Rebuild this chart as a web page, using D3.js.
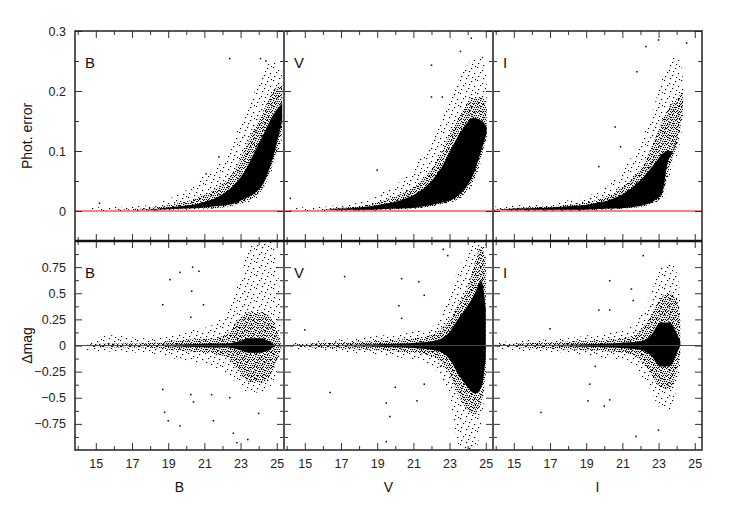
<!DOCTYPE html>
<html><head><meta charset="utf-8">
<script src="https://cdn.jsdelivr.net/npm/d3@7/dist/d3.min.js"></script>
<style>body{margin:0;background:#fff}</style>
</head><body>
<svg width="747" height="524"></svg>
<script>
var bands = ["B", "V", "I"];
var xTicks = [15, 17, 19, 21, 23, 25];
var xMinor = [14, 16, 18, 20, 22, 24];
var errTicks = [0, 0.1, 0.2, 0.3];
var errMinor = [-0.05, 0.05, 0.15, 0.25];
var dmTicks = [-0.75, -0.5, -0.25, 0, 0.25, 0.5, 0.75];
var dmMinor = [-0.875, -0.625, -0.375, -0.125, 0.125, 0.375, 0.625, 0.875];

// cloud envelopes: [mag, outerLo, innerLo, coreLo, coreHi, innerHi, outerHi]
var errB = [
  [14.6, 0.000, 0.002, 0.002, 0.002, 0.002, 0.006],
  [16.5, 0.000, 0.002, 0.002, 0.002, 0.003, 0.007],
  [18.0, 0.000, 0.001, 0.002, 0.003, 0.005, 0.010],
  [19.0, 0.001, 0.002, 0.003, 0.006, 0.010, 0.020],
  [20.0, 0.002, 0.003, 0.004, 0.009, 0.016, 0.035],
  [21.0, 0.003, 0.004, 0.006, 0.015, 0.027, 0.060],
  [22.0, 0.005, 0.006, 0.009, 0.028, 0.045, 0.085],
  [22.6, 0.007, 0.009, 0.012, 0.042, 0.065, 0.120],
  [23.2, 0.012, 0.015, 0.020, 0.065, 0.100, 0.160],
  [23.8, 0.020, 0.025, 0.030, 0.100, 0.140, 0.200],
  [24.3, 0.035, 0.040, 0.048, 0.130, 0.170, 0.235],
  [24.8, 0.070, 0.080, 0.090, 0.160, 0.200, 0.250],
  [25.3, 0.120, 0.130, 0.150, 0.180, 0.210, 0.235]
];
var errV = [
  [14.2, 0.000, 0.002, 0.002, 0.002, 0.002, 0.006],
  [16.0, 0.000, 0.002, 0.002, 0.002, 0.003, 0.007],
  [16.8, 0.000, 0.001, 0.002, 0.004, 0.005, 0.010],
  [18.0, 0.000, 0.001, 0.002, 0.006, 0.008, 0.014],
  [19.2, 0.001, 0.002, 0.003, 0.011, 0.016, 0.030],
  [20.3, 0.002, 0.003, 0.004, 0.018, 0.028, 0.050],
  [21.2, 0.004, 0.005, 0.006, 0.030, 0.045, 0.080],
  [22.0, 0.007, 0.008, 0.010, 0.050, 0.070, 0.120],
  [22.6, 0.010, 0.012, 0.014, 0.075, 0.100, 0.155],
  [23.2, 0.014, 0.016, 0.020, 0.110, 0.140, 0.200],
  [23.8, 0.025, 0.028, 0.035, 0.140, 0.170, 0.235],
  [24.3, 0.045, 0.050, 0.060, 0.155, 0.190, 0.255],
  [24.8, 0.090, 0.095, 0.105, 0.150, 0.190, 0.260],
  [25.05, 0.120, 0.125, 0.130, 0.140, 0.170, 0.220]
];
var errI = [
  [13.9, 0.000, 0.002, 0.002, 0.002, 0.003, 0.007],
  [15.0, 0.000, 0.001, 0.002, 0.004, 0.005, 0.009],
  [16.5, 0.000, 0.001, 0.002, 0.005, 0.007, 0.012],
  [18.0, 0.000, 0.001, 0.002, 0.008, 0.011, 0.018],
  [19.5, 0.001, 0.002, 0.003, 0.013, 0.018, 0.030],
  [20.5, 0.002, 0.003, 0.004, 0.021, 0.030, 0.050],
  [21.4, 0.004, 0.005, 0.006, 0.036, 0.050, 0.085],
  [22.2, 0.007, 0.008, 0.010, 0.058, 0.080, 0.130],
  [22.8, 0.013, 0.015, 0.018, 0.080, 0.120, 0.180],
  [23.2, 0.020, 0.025, 0.030, 0.095, 0.150, 0.220],
  [23.5, 0.040, 0.060, 0.080, 0.100, 0.170, 0.245],
  [23.8, 0.080, 0.090, 0.100, 0.100, 0.180, 0.255],
  [24.1, 0.100, 0.120, 0.140, 0.140, 0.190, 0.260],
  [24.35, 0.150, 0.170, 0.180, 0.180, 0.200, 0.220]
];
var dmB = [
  [14.5, -0.05, -0.01, 0, 0, 0.01, 0.03],
  [16.0, -0.06, -0.02, 0, 0, 0.02, 0.10],
  [17.5, -0.07, -0.02, 0, 0, 0.02, 0.07],
  [18.5, -0.09, -0.03, -0.005, 0.005, 0.03, 0.08],
  [19.5, -0.13, -0.05, -0.01, 0.01, 0.05, 0.12],
  [20.5, -0.16, -0.06, -0.015, 0.015, 0.06, 0.15],
  [21.5, -0.20, -0.08, -0.02, 0.02, 0.07, 0.20],
  [22.3, -0.28, -0.12, -0.02, 0.02, 0.12, 0.35],
  [22.9, -0.38, -0.25, -0.04, 0.04, 0.25, 0.60],
  [23.5, -0.45, -0.35, -0.07, 0.07, 0.32, 0.95],
  [24.1, -0.45, -0.36, -0.07, 0.07, 0.32, 1.00],
  [24.6, -0.40, -0.30, -0.04, 0.04, 0.28, 1.00],
  [25.0, -0.25, -0.15, 0, 0, 0.15, 0.80],
  [25.25, -0.05, 0, 0, 0, 0, 0.30]
];
var dmV = [
  [14.2, -0.03, -0.01, 0, 0, 0.01, 0.03],
  [15.5, -0.04, -0.02, 0, 0, 0.02, 0.04],
  [17.0, -0.06, -0.03, -0.005, 0.005, 0.03, 0.06],
  [18.5, -0.08, -0.04, -0.01, 0.01, 0.04, 0.08],
  [19.5, -0.10, -0.05, -0.015, 0.015, 0.05, 0.10],
  [20.5, -0.12, -0.06, -0.02, 0.02, 0.06, 0.12],
  [21.5, -0.16, -0.08, -0.03, 0.03, 0.08, 0.15],
  [22.3, -0.25, -0.13, -0.05, 0.05, 0.13, 0.22],
  [23.0, -0.50, -0.28, -0.13, 0.13, 0.25, 0.50],
  [23.5, -0.95, -0.48, -0.28, 0.26, 0.40, 0.75],
  [24.0, -1.00, -0.62, -0.40, 0.38, 0.55, 0.90],
  [24.4, -1.00, -0.66, -0.46, 0.50, 0.80, 1.00],
  [24.75, -0.75, -0.55, -0.40, 0.62, 0.95, 1.00],
  [25.0, -0.35, -0.25, -0.12, 0.35, 0.80, 1.00]
];
var dmI = [
  [14.0, -0.03, -0.01, 0, 0, 0.01, 0.03],
  [15.5, -0.05, -0.02, 0, 0, 0.02, 0.05],
  [17.0, -0.06, -0.03, -0.005, 0.005, 0.03, 0.06],
  [18.5, -0.08, -0.04, -0.01, 0.01, 0.04, 0.08],
  [19.5, -0.11, -0.05, -0.015, 0.015, 0.05, 0.11],
  [20.5, -0.13, -0.06, -0.02, 0.02, 0.06, 0.13],
  [21.4, -0.16, -0.08, -0.03, 0.03, 0.08, 0.17],
  [22.0, -0.28, -0.14, -0.04, 0.04, 0.14, 0.28],
  [22.6, -0.45, -0.28, -0.10, 0.10, 0.30, 0.50],
  [23.1, -0.60, -0.40, -0.20, 0.22, 0.45, 0.75],
  [23.6, -0.62, -0.42, -0.20, 0.22, 0.50, 0.80],
  [24.0, -0.40, -0.25, -0.08, 0.12, 0.45, 0.70],
  [24.2, -0.20, -0.10, 0, 0.04, 0.25, 0.50]
];

// isolated stars: [mag, value]
var errOutB = [[15.2, 0.013], [21.1, 0.062], [21.8, 0.09], [22.4, 0.254], [24.1, 0.254], [24.4, 0.25]];
var errOutV = [[14.2, 0.021], [19.0, 0.068], [22.0, 0.243], [22.0, 0.19], [22.6, 0.19], [23.6, 0.266], [24.2, 0.288]];
var errOutI = [[19.7, 0.074], [20.6, 0.14], [20.9, 0.107], [21.8, 0.232], [22.3, 0.274], [23.0, 0.285], [24.55, 0.28]];
var dmOutB = [[18.7, 0.39], [19.1, 0.63], [19.65, 0.7], [20.35, 0.75], [20.7, 0.71], [20.3, 0.52], [20.25, 0.27],
  [20.95, 0.39], [18.8, -0.64], [19.0, -0.72], [19.65, -0.77], [18.7, -0.42], [20.25, -0.47], [20.4, -0.54],
  [21.4, -0.47], [21.5, -0.72], [22.4, -0.5], [22.6, -0.84], [22.8, -0.93], [23.4, -0.9], [24.0, -0.65]];
var dmOutV = [[15.0, 0.15], [17.2, 0.66], [16.4, -0.45], [20.35, 0.64], [21.3, 0.61], [21.6, 0.48], [20.2, 0.38],
  [20.35, 0.26], [19.5, -0.55], [19.7, -0.68], [19.5, -0.92], [20.0, -0.4], [21.6, -0.37], [21.2, -0.53],
  [22.65, 0.92], [22.9, 0.86], [22.5, -0.2]];
var dmOutI = [[17.0, 0.16], [16.5, -0.64], [20.3, 0.62], [19.7, 0.34], [20.3, 0.34], [21.5, 0.54], [21.6, 0.43],
  [19.2, -0.37], [19.1, -0.53], [20.0, -0.58], [20.3, -0.52], [19.5, -0.2], [21.75, -0.87], [22.15, 0.86], [23.0, -0.81]];

var svg = d3.select("svg");
var font = "'Liberation Sans', Arial, sans-serif";
var left = 75, pw = 209;
var xs = bands.map(function (b, i) {
    return d3.scaleLinear().domain([13.85, 25.4]).range([left + i * pw, left + (i + 1) * pw]);
});
var yErr = d3.scaleLinear().domain([-0.05, 0.3]).range([241, 31]);
var yDm = d3.scaleLinear().domain([-1, 1]).range([450, 241]);

// stipple fills standing in for the dense point clouds
var defs = svg.append("defs");
function pattern(id, w, h, dots) {
    var p = defs.append("pattern").attr("id", id).attr("patternUnits", "userSpaceOnUse")
        .attr("width", w).attr("height", h);
    dots.forEach(function (d) {
        p.append("rect").attr("x", d[0]).attr("y", d[1]).attr("width", 1.2).attr("height", 1.1).attr("fill", "#000");
    });
}
pattern("sparse", 17, 13, [[1, 2], [7, 0], [12, 3], [15, 8], [4, 7], [9, 10], [2, 11], [13, 12], [6, 5], [10, 6], [16, 1]]);
pattern("dense", 9, 8, [[0, 0], [2, 1], [5, 0], [7, 1], [8, 3], [4, 2], [1, 3], [6, 3], [3, 4], [0, 5],
    [5, 5], [7, 5], [2, 6], [8, 7], [4, 7], [1, 7], [6, 7], [3, 2]]);

var rows = [
    {y: yErr, clouds: [errB, errV, errI], outs: [errOutB, errOutV, errOutI], top: 31, bot: 241},
    {y: yDm, clouds: [dmB, dmV, dmI], outs: [dmOutB, dmOutV, dmOutI], top: 241, bot: 450}
];

rows.forEach(function (r, ri) {
    bands.forEach(function (b, i) {
        var x = xs[i], y = r.y;
        var id = "clip" + ri + i;
        defs.append("clipPath").attr("id", id).append("rect")
            .attr("x", x.range()[0]).attr("y", r.top)
            .attr("width", pw).attr("height", r.bot - r.top);
        var g = svg.append("g").attr("clip-path", "url(#" + id + ")");
        var band = function (lo, hi) {
            return d3.area().x(function (d) { return x(d[0]); })
                .y0(function (d) { return y(d[lo]); })
                .y1(function (d) { return y(d[hi]); })
                .curve(d3.curveMonotoneX);
        };
        var data = r.clouds[i];
        g.append("path").datum(data).attr("d", band(1, 6)).attr("fill", "url(#sparse)");
        g.append("path").datum(data).attr("d", band(2, 5)).attr("fill", "url(#dense)");
        g.append("path").datum(data).attr("d", band(3, 4)).attr("fill", "#000");
        g.selectAll("rect.out").data(r.outs[i]).enter().append("rect")
            .attr("class", "out")
            .attr("x", function (d) { return x(d[0]) - 0.75; })
            .attr("y", function (d) { return y(d[1]) - 0.75; })
            .attr("width", 1.5).attr("height", 1.5).attr("fill", "#000");
        g.append("line")
            .attr("x1", x.range()[0]).attr("x2", x.range()[1])
            .attr("y1", y(0)).attr("y2", y(0))
            .attr("stroke", "red").attr("stroke-width", 1);

        // inward ticks on all four sides
        var maj = ri == 0 ? errTicks : dmTicks, mnr = ri == 0 ? errMinor : dmMinor;
        var ax = function (axis, vals, len, tx, ty) {
            var a = svg.append("g").attr("transform", "translate(" + tx + "," + ty + ")")
                .call(axis.tickValues(vals).tickSize(len).tickFormat(""));
            a.select(".domain").remove();
            a.selectAll("line").attr("stroke", "#333");
        };
        ax(d3.axisRight(y), maj, 7, x.range()[0], 0);
        ax(d3.axisRight(y), mnr, 4, x.range()[0], 0);
        ax(d3.axisLeft(y), maj, 7, x.range()[1], 0);
        ax(d3.axisLeft(y), mnr, 4, x.range()[1], 0);
        ax(d3.axisBottom(x), xTicks, 7, 0, r.top);
        ax(d3.axisBottom(x), xMinor, 4, 0, r.top);
        ax(d3.axisTop(x), xTicks, 7, 0, r.bot);
        ax(d3.axisTop(x), xMinor, 4, 0, r.bot);

        svg.append("text").attr("x", x.range()[0] + 10).attr("y", r.top + 37)
            .attr("font-family", font).attr("font-size", 15).attr("fill", "#111").text(b);
    });
});

// frame
var frame = svg.append("g").attr("fill", "none");
frame.append("rect").attr("x", left).attr("y", 31).attr("width", 3 * pw).attr("height", 419)
    .attr("stroke", "#222").attr("stroke-width", 1.5);
[1, 2].forEach(function (k) {
    frame.append("line").attr("x1", left + k * pw).attr("x2", left + k * pw).attr("y1", 31).attr("y2", 450)
        .attr("stroke", "#555").attr("stroke-width", 2);
});
frame.append("line").attr("x1", left).attr("x2", left + 3 * pw).attr("y1", 241).attr("y2", 241)
    .attr("stroke", "#111").attr("stroke-width", 2.5);

// tick labels
function labels(axis, vals, fmt, tx, ty) {
    var a = svg.append("g").attr("transform", "translate(" + tx + "," + ty + ")")
        .call(axis.tickValues(vals).tickSize(0).tickPadding(9).tickFormat(fmt));
    a.select(".domain").remove();
    a.selectAll("text").attr("font-family", font).attr("font-size", 12.5).attr("fill", "#222");
}
labels(d3.axisLeft(yErr), errTicks, function (d) { return d3.format("")(+d.toFixed(2)); }, left, 0);
labels(d3.axisLeft(yDm), dmTicks, function (d) { return d3.format("")(d); }, left, 0);
xs.forEach(function (x) { labels(d3.axisBottom(x), xTicks, d3.format("d"), 0, 450); });

// axis titles
bands.forEach(function (b, i) {
    svg.append("text").attr("x", (xs[i].range()[0] + xs[i].range()[1]) / 2).attr("y", 492)
        .attr("text-anchor", "middle").attr("font-family", font).attr("font-size", 14).attr("fill", "#111").text(b);
});
svg.append("text").attr("transform", "translate(32," + yErr(0.125) + ") rotate(-90)")
    .attr("text-anchor", "middle").attr("font-family", font).attr("font-size", 14).attr("fill", "#111").text("Phot. error");
svg.append("text").attr("transform", "translate(32," + yDm(0) + ") rotate(-90)")
    .attr("text-anchor", "middle").attr("font-family", font).attr("font-size", 14).attr("fill", "#111").text("Δmag");
</script>
</body></html>
